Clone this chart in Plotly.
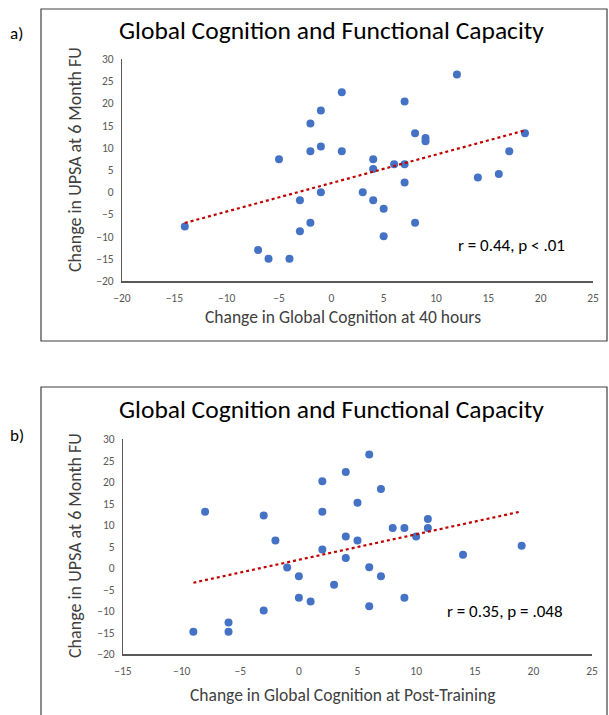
import numpy as np
import plotly.graph_objects as go

# Panel a data: change in global cognition at 40 hours vs change in UPSA at 6 month FU
a_x = [-14, -7, -6, -4, -5, -3, -3, -2, -2, -2, -1, -1, -1, 1, 1,
       12, 7, 8, 9, 9, 17, 18.5, 4, 4, 6, 7, 7, 3, 4, 5, 8, 5, 14, 16]
a_y = [-7.7, -13, -15, -15, 7.4, -1.8, -8.8, -6.9, 9.2, 15.5, 18.4, 10.3, 0, 22.5, 9.2,
       26.5, 20.4, 13.3, 12.2, 11.5, 9.2, 13.3, 7.4, 5.2, 6.3, 6.3, 2.2, 0, -1.8, -3.7, -6.9, -9.9, 3.3, 4.1]

# Panel b data: change in global cognition at post-training vs change in UPSA at 6 month FU
b_x = [-9, -8, -6, -6, -3, -3, -2, -1, 0, 0, 1, 2, 2, 2, 3,
       6, 4, 7, 5, 8, 9, 11, 11, 10, 4, 5, 4, 6, 7, 9, 6, 14, 19]
b_y = [-14.8, 13.1, -12.7, -14.8, 12.2, -9.9, 6.4, 0.1, -1.9, -6.9, -7.8, 20.2, 13.1, 4.3, -3.9,
       26.4, 22.3, 18.4, 15.2, 9.3, 9.3, 11.4, 9.3, 7.3, 7.3, 6.4, 2.3, 0.2, -1.9, -6.9, -8.9, 3.1, 5.2]

panel_titles = ["Global Cognition and Functional Capacity", "Global Cognition and Functional Capacity"]
x_titles = ["Change in Global Cognition at 40 hours", "Change in Global Cognition at Post-Training"]
y_title = "Change in UPSA at 6 Month FU"
stats = ["r = 0.44, p < .01", "r = 0.35, p = .048"]
a_xrange = [-20, 25]
b_xrange = [-15, 25]
y_range = [-20, 30]

W, H = 609, 715
OFF = 0  # body margin removed via post_script
FONT = "Carlito, Lato, 'Liberation Sans', sans-serif"
BLUE = "#4472C4"
RED = "#C00000"
AX = "#595959"


def PX(x):
    return (x - OFF) / W


def PY(y):
    return 1 - (y - OFF) / H


fig = go.Figure()


def trend(xs, ys):
    m, c = np.polyfit(xs, ys, 1)
    tx = np.array([min(xs), max(xs)])
    return tx, m * tx + c


for i, (xs, ys) in enumerate([(a_x, a_y), (b_x, b_y)]):
    xa = "x" if i == 0 else "x2"
    ya = "y" if i == 0 else "y2"
    fig.add_trace(go.Scatter(x=xs, y=ys, mode="markers", xaxis=xa, yaxis=ya,
                             marker=dict(color=BLUE, size=8, line=dict(width=0)),
                             showlegend=False))
    tx, ty = trend(xs, ys)
    fig.add_trace(go.Scatter(x=tx, y=ty, mode="lines", xaxis=xa, yaxis=ya,
                             line=dict(color=RED, width=2.2, dash="dot"),
                             showlegend=False))

a_dom_x = [PX(122), PX(593)]
a_dom_y = [PY(281), PY(59)]
b_dom_x = [PX(123), PX(592)]
b_dom_y = [PY(654), PY(439)]

common_x = dict(showgrid=False, zeroline=False, showline=True, linecolor=AX, linewidth=1.5,
                ticks="", dtick=5, automargin=False, ticklabelstandoff=5,
                tickfont=dict(family=FONT, size=11.5, color=AX))
common_y = dict(showgrid=False, zeroline=False, showline=True, linecolor=AX, linewidth=1.3,
                ticks="", dtick=5, range=y_range, automargin=False, ticklabelstandoff=5,
                tickfont=dict(family=FONT, size=11.5, color=AX))

fig.update_layout(
    template="none",
    width=W, height=H, margin=dict(l=0, r=0, t=0, b=0, autoexpand=False),
    paper_bgcolor="white", plot_bgcolor="white",
    font=dict(family=FONT),
    xaxis=dict(domain=a_dom_x, range=a_xrange, anchor="y", **common_x),
    yaxis=dict(domain=a_dom_y, anchor="x", **common_y),
    xaxis2=dict(domain=b_dom_x, range=b_xrange, anchor="y2", **common_x),
    yaxis2=dict(domain=b_dom_y, anchor="x2", **common_y),
)


def note(text, x, y, size, color="black", angle=0):
    fig.add_annotation(text=text, xref="paper", yref="paper", x=PX(x), y=PY(y),
                       xanchor="center", yanchor="middle", textangle=angle,
                       showarrow=False, font=dict(family=FONT, size=size, color=color))


# panel borders
fig.add_shape(type="rect", xref="paper", yref="paper",
              x0=PX(41), x1=PX(607), y0=PY(341), y1=PY(9),
              line=dict(color="#404040", width=1.2), fillcolor="rgba(0,0,0,0)")
fig.add_shape(type="rect", xref="paper", yref="paper",
              x0=PX(41), x1=PX(607), y0=-0.05, y1=PY(387),
              line=dict(color="#404040", width=1.2), fillcolor="rgba(0,0,0,0)")

# titles and labels
note(panel_titles[0], 331, 30, 25.5)
note(panel_titles[1], 331, 409, 25.5)
note("a)", 16, 33, 17)
note("b)", 17, 435, 17)

note(x_titles[0], 343, 317, 17.5, "#404040")
note(x_titles[1], 343, 695, 17.5, "#404040")
note(y_title, 75, 160, 18, "#404040", -90)
note(y_title, 75, 546, 18, "#404040", -90)

note(stats[0], 511, 245, 17)
note(stats[1], 505, 611, 17)

fig.write_html("out.html",
               config={"displayModeBar": False},
               post_script="document.body.style.margin='0px';document.body.style.overflow='hidden';")
